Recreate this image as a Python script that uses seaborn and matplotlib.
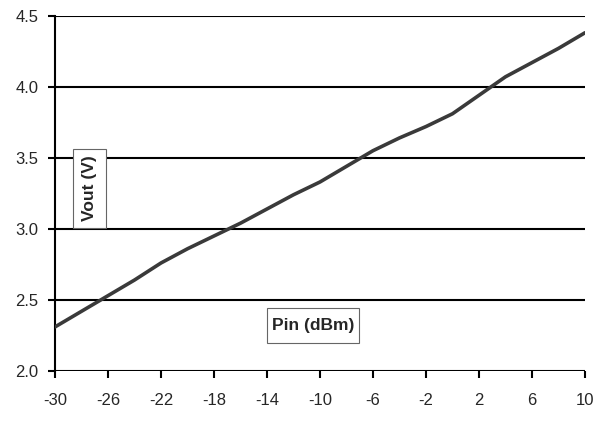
import matplotlib
matplotlib.use('Agg')
import matplotlib.pyplot as plt
from matplotlib.patches import Rectangle
import seaborn as sns
import pandas as pd

pin_dbm = [-30, -28, -26, -24, -22, -20, -18, -16, -14, -12, -10,
           -8, -6, -4, -2, 0, 2, 4, 6, 8, 10]
vout_v = [2.31, 2.42, 2.53, 2.64, 2.76, 2.86, 2.95, 3.04, 3.14, 3.24, 3.33,
          3.44, 3.55, 3.64, 3.72, 3.81, 3.94, 4.07, 4.17, 4.27, 4.38]
x_ticks = list(range(-30, 11, 4))
y_ticks = [2.0, 2.5, 3.0, 3.5, 4.0, 4.5]

df = pd.DataFrame({'Pin': pin_dbm, 'Vout': vout_v})

sns.set_style('ticks')
plt.rcParams['font.family'] = ['Liberation Sans', 'DejaVu Sans']
plt.rcParams['axes.unicode_minus'] = False

fig = plt.figure(figsize=(5.96, 4.21), dpi=100)
ax = fig.add_axes([0.0923, 0.1188, 0.8892, 0.8439])

for yv in y_ticks:
    ax.axhline(yv, color='black', lw=1.5, zorder=1)

sns.lineplot(data=df, x='Pin', y='Vout', ax=ax, color='#3a3a3a', lw=2.6, zorder=3)

ax.set_xlim(-30, 10)
ax.set_ylim(2.0, 4.5)
ax.set_xticks(x_ticks)
ax.set_yticks(y_ticks)
ax.set_yticklabels([f'{v:.1f}' for v in y_ticks])
ax.set_xlabel('')
ax.set_ylabel('')
ax.tick_params(axis='both', labelsize=12, width=1.5, length=5, color='black', direction='out')
ax.tick_params(axis='x', pad=11)
ax.tick_params(axis='y', pad=7)

for s in ['top', 'right', 'bottom']:
    ax.spines[s].set_visible(False)
ax.spines['left'].set_linewidth(1.5)
ax.spines['left'].set_color('black')

# boxed axis titles placed inside the plot area, Excel style
def boxed_label(cx, cy, w, h, text, rot):
    ax.add_patch(Rectangle((cx - w / 2, cy - h / 2), w, h, transform=ax.transAxes,
                           fc='white', ec='#666666', lw=0.8, zorder=5))
    ax.text(cx, cy, text, transform=ax.transAxes, rotation=rot,
            ha='center', va='center', fontsize=12.5, fontweight='bold', zorder=6)

boxed_label(0.0651, 0.5136, 0.0623, 0.2223, 'Vout (V)', 90)
boxed_label(0.4868, 0.128, 0.1736, 0.0985, 'Pin (dBm)', 0)

fig.savefig('out.png', dpi=100)
